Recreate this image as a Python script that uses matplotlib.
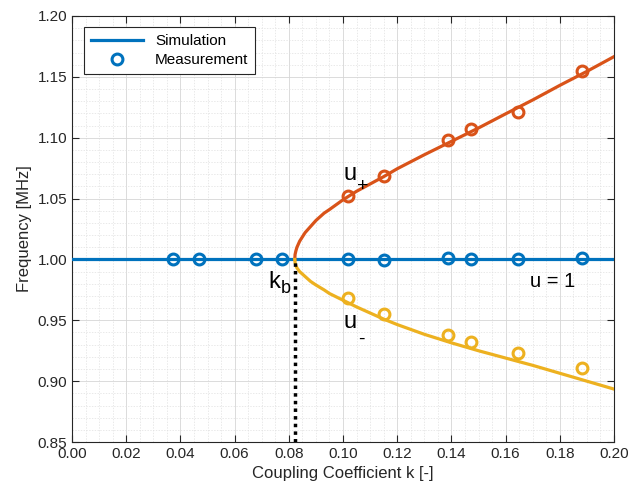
import numpy as np
import matplotlib
matplotlib.use("Agg")
import matplotlib.pyplot as plt
from matplotlib.ticker import MultipleLocator

plt.rcParams['font.family'] = ['Liberation Sans', 'DejaVu Sans']

# simulation curves
k_sim = [0.0822, 0.0823, 0.0826, 0.083, 0.084, 0.086, 0.088, 0.090, 0.093, 0.095,
         0.100, 0.105, 0.110, 0.115, 0.120, 0.130, 0.140, 0.150, 0.160, 0.170,
         0.180, 0.190, 0.200]
f_upper = [1.000, 1.004, 1.007, 1.010, 1.015, 1.022, 1.027, 1.032, 1.038, 1.041,
           1.049, 1.056, 1.062, 1.068, 1.0745, 1.086, 1.097, 1.108, 1.1196, 1.131,
           1.143, 1.1545, 1.1666]
f_lower = [1.000, 0.9975, 0.995, 0.993, 0.990, 0.986, 0.982, 0.979, 0.975, 0.972,
           0.9665, 0.961, 0.956, 0.951, 0.9465, 0.9385, 0.9315, 0.925, 0.919, 0.913,
           0.9065, 0.900, 0.8935]
k_b = 0.0822

# measurements
k_meas_u1 = [0.0373, 0.0469, 0.068, 0.0775, 0.1017, 0.1152, 0.1389, 0.1471, 0.1647, 0.1881]
f_meas_u1 = [1.000, 1.000, 1.000, 1.000, 1.000, 0.9995, 1.001, 1.000, 1.000, 1.001]
k_meas_split = [0.1017, 0.1152, 0.1389, 0.1471, 0.1647, 0.1881]
f_meas_upper = [1.0523, 1.0688, 1.098, 1.107, 1.1214, 1.155]
f_meas_lower = [0.968, 0.955, 0.938, 0.932, 0.923, 0.9105]

blue = '#0072BD'
orange = '#D95319'
yellow = '#EDB120'

fig = plt.figure(figsize=(6.32, 4.95), dpi=100)
ax = fig.add_axes([0.114, 0.107, 0.8575, 0.8607])

ax.plot([0, 0.2], [1.0, 1.0], color=blue, lw=2.3, label='Simulation', zorder=3)
ax.plot(k_sim, f_upper, color=orange, lw=2.3, zorder=3)
ax.plot(k_sim, f_lower, color=yellow, lw=2.3, zorder=3)
ax.plot([k_b, k_b], [0.85, 1.0], color='black', lw=2.5, ls=(0, (1, 1.2)), zorder=3)

mk = dict(marker='o', ls='none', ms=7.8, mew=2.2, fillstyle='none', zorder=4)
ax.plot(k_meas_u1, f_meas_u1, color=blue, label='Measurement', **mk)
ax.plot(k_meas_split, f_meas_upper, color=orange, **mk)
ax.plot(k_meas_split, f_meas_lower, color=yellow, **mk)

# annotations (main letter + lowered subscript, MATLAB style)
ax.text(0.1000, 1.0652, 'u', fontsize=17, va='baseline')
ax.text(0.1052, 1.0600, '+', fontsize=14, va='center')
ax.text(0.1000, 0.9436, 'u', fontsize=17, va='baseline')
ax.text(0.1055, 0.9346, '-', fontsize=14, va='center')
ax.text(0.0723, 0.9765, 'k', fontsize=17, va='baseline')
ax.text(0.0771, 0.9724, 'b', fontsize=13, va='baseline')
ax.text(0.169, 0.9773, 'u = 1', fontsize=14.5, va='baseline')

ax.set_xlim(0, 0.2)
ax.set_ylim(0.85, 1.2)
ax.xaxis.set_major_locator(MultipleLocator(0.02))
ax.xaxis.set_minor_locator(MultipleLocator(0.005))
ax.yaxis.set_major_locator(MultipleLocator(0.05))
ax.yaxis.set_minor_locator(MultipleLocator(0.01))
ax.xaxis.set_major_formatter(plt.FormatStrFormatter('%.2f'))
ax.yaxis.set_major_formatter(plt.FormatStrFormatter('%.2f'))

ax.grid(True, which='major', color='#d6d6d6', lw=0.6)
ax.grid(True, which='minor', color='#e0e0e0', lw=0.5, ls=(0, (2, 2)))
ax.set_axisbelow(True)

ax.tick_params(which='both', direction='in', top=True, right=True,
               colors='#262626', labelsize=11)
ax.tick_params(which='major', length=5)
ax.tick_params(which='minor', length=0)
for s in ax.spines.values():
    s.set_color('#262626')
    s.set_linewidth(0.8)

ax.set_xlabel('Coupling Coefficient k [-]', fontsize=12, color='#262626')
ax.set_ylabel('Frequency [MHz]', fontsize=12, color='#262626')

leg = ax.legend(loc='upper left', bbox_to_anchor=(0.022, 0.974), fontsize=11,
                fancybox=False, framealpha=1, edgecolor='#262626',
                handlelength=3.4, borderpad=0.45, labelspacing=0.35,
                borderaxespad=0)
leg.get_frame().set_linewidth(0.8)

fig.savefig('out.png', dpi=100)
